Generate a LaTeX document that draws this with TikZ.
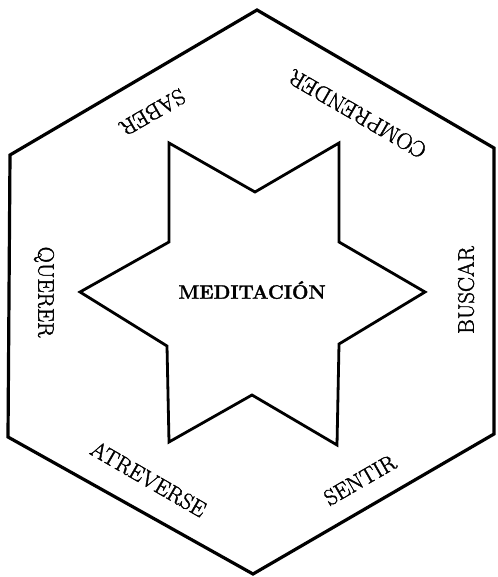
\documentclass[tikz,border=0pt]{standalone}
\usepackage{fontspec}
\setmainfont{Latin Modern Roman}
\newfontfamily\labfont{Latin Modern Roman}[FakeBold=1.6]
\newfontfamily\medfont{Latin Modern Roman}[BoldFeatures={FakeBold=1.4}]
\begin{document}
\begin{tikzpicture}[x=1pt,y=-1pt,
  hexline/.style={line width=3.2pt,line join=miter},
  starline/.style={line width=2.8pt,line join=miter},
  lab/.style={inner sep=0pt,font=\labfont\fontsize{22.5}{26}\selectfont},
  centrelab/.style={inner sep=0pt,font=\medfont\fontsize{19.5}{23}\selectfont\bfseries}]
\useasboundingbox (0,0) rectangle (497,577);
% hexagon
\draw[hexline] (257,10) -- (494,148) -- (494,434) -- (253,574) -- (8,437) -- (10,155) -- cycle;
% star
\draw[starline] (169,143) -- (255,192) -- (339,143) -- (339,242) -- (425,292)
  -- (339,344) -- (337,445) -- (252,395) -- (169,442) -- (167,346)
  -- (80,292) -- (169,242) -- cycle;
% labels
\node[centrelab] (med) at (252,290) {MEDITACIÓN};
\node[lab,rotate=210] (saber) at (152.5,112.5) {SABER};
\node[lab,rotate=150] (comp) at (357.5,114) {COMPRENDER};
\node[lab,rotate=-90] (querer) at (44,292) {QUERER};
\node[lab,rotate=90] (buscar) at (466,290) {BUSCAR};
\node[lab,rotate=-30] (atrev) at (148.5,479) {ATREVERSE};
\node[lab,rotate=30] (sentir) at (360,480) {SENTIR};
\end{tikzpicture}
\end{document}
